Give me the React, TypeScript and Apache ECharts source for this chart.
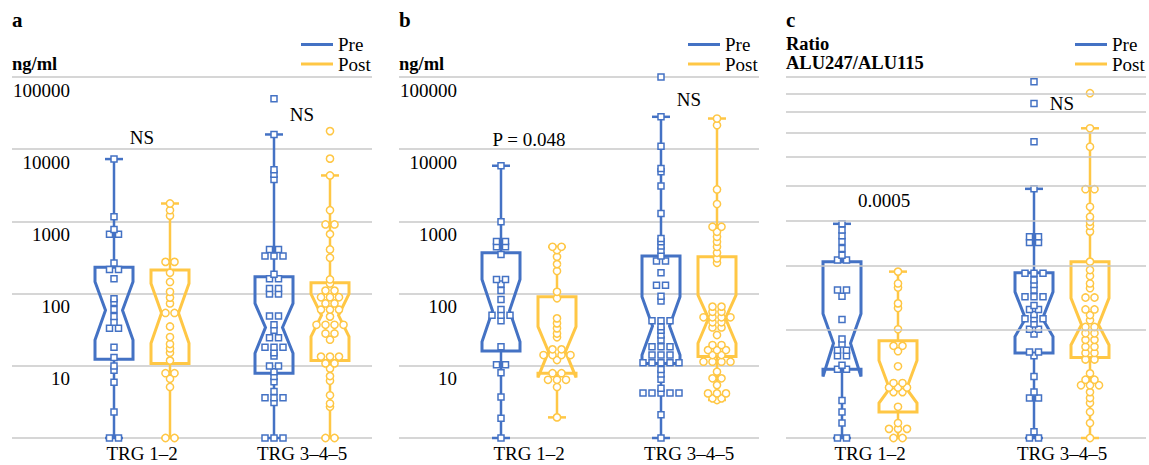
import React, { useEffect, useRef } from 'react';
import * as echarts from 'echarts';

const BLUE = '#4472C4';
const GOLD = '#FFC745';
const GRID_COLOR = '#C8C8C8';
const FONT = 'Liberation Serif';
const FS = 19;

const GROUPS = ['TRG 1–2', 'TRG 3–4–5'];
const SERIES_NAMES = ['Pre', 'Post'];
const RATIO_GRID = [0.2, 0.3, 0.4, 0.5, 0.6, 0.7, 0.8, 0.9];

// ---------- Panel a (ng/ml) ----------
const A_TRG12_PRE = [1, 1, 2.3, 5.9, 8.7, 9.9, 13, 18, 33, 33, 40, 48, 60, 75, 85, 160, 215, 215, 265, 665, 665, 775, 1160, 7300];
const A_TRG12_POST = [1, 1, 5.1, 6.6, 7.9, 7.9, 11.8, 15.2, 17.4, 20, 25, 35, 54, 54, 73, 88, 106, 145, 194, 275, 275, 1200, 1430, 1770];
const A_TRG345_PRE = [1, 1, 1, 3.1, 3.6, 3.6, 3.6, 4.4, 6.0, 7.1, 8.3, 9.9, 9.9, 13.7, 15.2, 18, 18, 18, 24.5, 24.5, 31, 37, 49, 49, 99, 99, 118, 118, 161, 161, 186, 331, 331, 331, 409, 409, 3800, 4500, 5200, 16000, 50000];
const A_TRG345_POST = [1, 1, 2.7, 3.0, 3.9, 6.2, 7.2, 9.2, 10.8, 10.8, 13.4, 13.4, 13.4, 23, 28, 28, 37, 37, 37, 37, 48, 60, 60, 60, 73, 73, 89, 89, 89, 110, 110, 138, 157, 314, 409, 667, 908, 908, 1430, 4330, 7400, 17800];
// [whiskerLow, q1, notchLow, median, notchHigh, q3, whiskerHigh]
const A_PRE_STATS = [[1, 12.3, 22.7, 59, 146, 231, 7300], [1, 7.9, 14.9, 34, 73, 171, 16000]];
const A_POST_STATS = [[1, 10.8, 20.5, 54, 138, 212, 1770], [1, 11.8, 25.3, 50, 99, 141, 4330]];
const A_STAT_TEXT = ['NS', 'NS'];
const A_STAT_Y = [14300, 29800];

// ---------- Panel b (ng/ml) ----------
const B_TRG12_PRE = [1, 1.87, 3.7, 8.0, 10.3, 10.3, 18.4, 42, 50, 50, 50, 60, 83, 110, 136, 157, 157, 349, 445, 445, 528, 528, 990, 5900];
const B_TRG12_POST = [1.93, 5.1, 6.4, 6.4, 6.4, 7.9, 7.9, 12, 14.1, 14.1, 14.1, 14.1, 16.9, 16.9, 24.8, 28, 33, 38.7, 45.4, 86, 106, 205, 256, 324, 400, 445, 445];
const B_TRG345_PRE = [1, 2.1, 4.2, 4.2, 4.2, 4.2, 4.2, 4.9, 6.5, 7.7, 8.9, 11, 11, 11, 11, 11, 14.1, 14.1, 14.1, 18.4, 18.4, 18.4, 22.7, 26.7, 31, 34.8, 42, 42, 42, 79, 92, 131, 131, 194, 282, 282, 331, 400, 455, 523, 580, 1290, 3100, 4860, 5400, 11000, 28100, 100000];
const B_TRG345_POST = [3.36, 3.54, 3.54, 4.15, 4.15, 4.15, 5.4, 6.7, 6.7, 8.3, 11.4, 11.4, 11.4, 11.4, 14.1, 14.1, 16.5, 16.5, 16.5, 19.4, 19.4, 26.7, 34, 34, 40, 40, 47, 47, 47, 47, 56, 56, 66, 66, 267, 307, 368, 445, 523, 612, 718, 843, 843, 1740, 2770, 21500, 26600];
const B_PRE_STATS = [[1, 16, 21.6, 58, 157, 368, 5900], [1, 10.8, 14.1, 35.5, 90.5, 331, 28100]];
const B_POST_STATS = [[1.93, 7.9, 6.9, 15.7, 34.8, 90.5, 445], [3.36, 13.4, 20.5, 45.4, 95.4, 324, 26600]];
const B_STAT_TEXT = ['P = 0.048', 'NS'];
const B_STAT_Y = [13800, 48800];

// ---------- Panel c (ratio ALU247/ALU115) ----------
const C_TRG12_PRE = [0.1, 0.1, 0.11, 0.118, 0.127, 0.155, 0.155, 0.159, 0.169, 0.169, 0.175, 0.175, 0.182, 0.188, 0.213, 0.247, 0.257, 0.257, 0.311, 0.311, 0.321, 0.335, 0.35, 0.363, 0.377, 0.392];
const C_TRG12_POST = [0.1, 0.1, 0.106, 0.106, 0.106, 0.11, 0.122, 0.134, 0.134, 0.138, 0.138, 0.138, 0.142, 0.142, 0.158, 0.174, 0.18, 0.18, 0.2, 0.229, 0.236, 0.261, 0.268, 0.289];
const C_TRG345_PRE = [0.1, 0.1, 0.104, 0.129, 0.129, 0.134, 0.148, 0.169, 0.173, 0.173, 0.194, 0.2, 0.2, 0.207, 0.214, 0.214, 0.214, 0.22, 0.227, 0.227, 0.233, 0.246, 0.246, 0.246, 0.257, 0.266, 0.274, 0.286, 0.286, 0.286, 0.348, 0.348, 0.361, 0.361, 0.49, 0.662, 0.845, 0.97];
const C_TRG345_POST = [0.1, 0.11, 0.118, 0.125, 0.129, 0.134, 0.14, 0.14, 0.14, 0.145, 0.145, 0.151, 0.165, 0.165, 0.172, 0.172, 0.179, 0.179, 0.187, 0.187, 0.195, 0.195, 0.203, 0.203, 0.212, 0.219, 0.227, 0.227, 0.245, 0.245, 0.26, 0.268, 0.281, 0.292, 0.308, 0.373, 0.387, 0.397, 0.41, 0.437, 0.489, 0.489, 0.641, 0.721, 0.902];
const C_PRE_STATS = [[0.1, 0.155, 0.148, 0.183, 0.221, 0.308, 0.392], [0.1, 0.172, 0.191, 0.214, 0.254, 0.287, 0.49]];
const C_POST_STATS = [[0.1, 0.118, 0.125, 0.137, 0.164, 0.186, 0.289], [0.1, 0.167, 0.181, 0.206, 0.244, 0.308, 0.721]];
const C_STAT_TEXT = ['0.0005', 'NS'];
const C_STAT_Y = [0.456, 0.847];

// ---------- layout (pixels) ----------
const GRID_TOP = 77;
const GRID_H = 361;
const GRID_W = 360;
const PHASE_OFFSET = 28;
const BOX_W = 38;
const WAIST_W = 17;
const CAP_W = 18;
const SLOT = 9;

const PANELS = [
  { left: 12, xMin: 0.1875, xMax: 2.4375, log: [1, 100000], labels: true, pre: [A_TRG12_PRE, A_TRG345_PRE], post: [A_TRG12_POST, A_TRG345_POST], preStats: A_PRE_STATS, postStats: A_POST_STATS, statText: A_STAT_TEXT, statY: A_STAT_Y, statDx: [0, 0], legendLeft: 301 },
  { left: 399, xMin: 0.1875, xMax: 2.4375, log: [1, 100000], labels: true, pre: [B_TRG12_PRE, B_TRG345_PRE], post: [B_TRG12_POST, B_TRG345_POST], preStats: B_PRE_STATS, postStats: B_POST_STATS, statText: B_STAT_TEXT, statY: B_STAT_Y, statDx: [0, 0], legendLeft: 688 },
  { left: 786, xMin: 0.5625, xMax: 2.4375, log: [0.1, 1], labels: false, pre: [C_TRG12_PRE, C_TRG345_PRE], post: [C_TRG12_POST, C_TRG345_POST], preStats: C_PRE_STATS, postStats: C_POST_STATS, statText: C_STAT_TEXT, statY: C_STAT_Y, statDx: [14, 0], legendLeft: 1075 },
];

function slotsOf(values: number[]): number[] {
  const counts = new Map<number, number>();
  values.forEach((v) => counts.set(v, (counts.get(v) || 0) + 1));
  const seen = new Map<number, number>();
  return values.map((v) => {
    const n = counts.get(v) as number;
    const i = seen.get(v) || 0;
    seen.set(v, i + 1);
    return i - (n - 1) / 2;
  });
}

function boxRenderer(offset: number, color: string) {
  return (params: any, api: any) => {
    const g = api.value(0);
    const Y = (i: number) => api.coord([g, api.value(i)])[1];
    const cx = api.coord([g, api.value(4)])[0] + offset;
    const wL = Y(1), q1 = Y(2), nL = Y(3), med = Y(4), nH = Y(5), q3 = Y(6), wH = Y(7);
    const hw = BOX_W / 2, nw = WAIST_W / 2, cw = CAP_W / 2;
    const lineStyle = { stroke: color, lineWidth: 2.5 };
    return {
      type: 'group',
      children: [
        { type: 'line', shape: { x1: cx, y1: wL, x2: cx, y2: q1 }, style: lineStyle },
        { type: 'line', shape: { x1: cx, y1: q3, x2: cx, y2: wH }, style: lineStyle },
        { type: 'line', shape: { x1: cx - cw, y1: wH, x2: cx + cw, y2: wH }, style: lineStyle },
        { type: 'line', shape: { x1: cx - cw, y1: wL, x2: cx + cw, y2: wL }, style: lineStyle },
        {
          type: 'polygon',
          shape: {
            points: [
              [cx - hw, q3], [cx - hw, nH], [cx - nw, med], [cx - hw, nL], [cx - hw, q1],
              [cx + hw, q1], [cx + hw, nL], [cx + nw, med], [cx + hw, nH], [cx + hw, q3],
            ],
          },
          style: { fill: 'none', stroke: color, lineWidth: 3, lineJoin: 'miter' },
        },
      ],
    };
  };
}

function pointRenderer(offset: number, color: string, square: boolean) {
  return (params: any, api: any) => {
    const p = api.coord([api.value(0), api.value(1)]);
    const x = p[0] + offset + api.value(2) * SLOT;
    const y = p[1];
    if (square) {
      return { type: 'rect', shape: { x: x - 3, y: y - 3, width: 6, height: 6 }, style: { fill: '#fff', stroke: color, lineWidth: 1.5 } };
    }
    return { type: 'circle', shape: { cx: x, cy: y, r: 3.6 }, style: { fill: '#fff', stroke: color, lineWidth: 1.5 } };
  };
}

function buildOption() {
  const grid: any[] = [];
  const xAxis: any[] = [];
  const yAxis: any[] = [];
  const series: any[] = [];
  const legend: any[] = [];

  PANELS.forEach((pn, i) => {
    grid.push({ left: pn.left, top: GRID_TOP, width: GRID_W, height: GRID_H });
    xAxis.push({
      gridIndex: i, type: 'value', min: pn.xMin, max: pn.xMax, interval: 0.0625,
      axisLine: { show: false }, axisTick: { show: false }, splitLine: { show: false },
      axisLabel: {
        margin: 6, fontFamily: FONT, fontSize: FS, color: '#000',
        formatter: (v: number) => (Math.abs(v - 1) < 1e-6 ? GROUPS[0] : Math.abs(v - 2) < 1e-6 ? GROUPS[1] : ''),
      },
    });
    yAxis.push({
      gridIndex: i, type: 'log', logBase: 10, min: pn.log[0], max: pn.log[1],
      axisLine: { show: false }, axisTick: { show: false },
      splitLine: { show: true, lineStyle: { color: GRID_COLOR, width: 1.5 } },
      axisLabel: {
        show: pn.labels, inside: true, margin: 58, align: 'right', verticalAlign: 'top',
        padding: [3.5, 0, 0, 0], lineHeight: 19, fontFamily: FONT, fontSize: FS, color: '#000',
        formatter: (v: number) => (v >= 10 ? String(Math.round(v)) : ''),
      },
    });
    if (!pn.labels) {
      series.push({
        type: 'line', name: 'grid', xAxisIndex: i, yAxisIndex: i, data: [], silent: true,
        markLine: {
          silent: true, symbol: ['none', 'none'], label: { show: false },
          lineStyle: { color: GRID_COLOR, width: 1.5, type: 'solid' },
          data: RATIO_GRID.map((v) => ({ yAxis: v })),
        },
      });
    }
    const phases = [
      { name: SERIES_NAMES[0], stats: pn.preStats, pts: pn.pre, off: -PHASE_OFFSET, color: BLUE, square: true },
      { name: SERIES_NAMES[1], stats: pn.postStats, pts: pn.post, off: PHASE_OFFSET, color: GOLD, square: false },
    ];
    phases.forEach((ph) => {
      series.push({
        type: 'custom', name: ph.name, xAxisIndex: i, yAxisIndex: i, clip: false, silent: true,
        itemStyle: { color: ph.color },
        encode: { x: 0, y: [1, 2, 3, 4, 5, 6, 7] },
        data: ph.stats.map((s, gi) => [gi + 1, ...s]),
        renderItem: boxRenderer(ph.off, ph.color),
      });
    });
    phases.forEach((ph) => {
      const data: number[][] = [];
      ph.pts.forEach((vals, gi) => {
        const sl = slotsOf(vals);
        vals.forEach((v, k) => data.push([gi + 1, v, sl[k]]));
      });
      series.push({
        type: 'custom', name: ph.name, xAxisIndex: i, yAxisIndex: i, clip: false, silent: true,
        itemStyle: { color: ph.color },
        encode: { x: 0, y: 1 },
        data,
        renderItem: pointRenderer(ph.off, ph.color, ph.square),
      });
    });
    series.push({
      type: 'custom', name: 'stats', xAxisIndex: i, yAxisIndex: i, clip: false, silent: true,
      encode: { x: 0, y: 1 },
      data: pn.statY.map((v, gi) => [gi + 1, v]),
      renderItem: (params: any, api: any) => {
        const p = api.coord([api.value(0), api.value(1)]);
        const idx = params.dataIndex;
        return {
          type: 'text', x: p[0] + pn.statDx[idx], y: p[1],
          style: { text: pn.statText[idx], fontFamily: FONT, fontSize: FS, fill: '#000', align: 'center', verticalAlign: 'middle' },
        };
      },
    });
    legend.push({
      left: pn.legendLeft, top: 35, padding: 0, orient: 'vertical', icon: 'rect', itemWidth: 32, itemHeight: 3, itemGap: 0.5,
      selectedMode: false,
      textStyle: { fontFamily: FONT, fontSize: FS, color: '#000', lineHeight: 19 },
      data: [
        { name: SERIES_NAMES[0], itemStyle: { color: BLUE } },
        { name: SERIES_NAMES[1], itemStyle: { color: GOLD } },
      ],
    });
  });

  const titleText = (text: string, x: number, y: number, size: number) => ({
    type: 'text', x, y,
    style: { text, fontFamily: FONT, fontWeight: 'bold', fontSize: size, fill: '#000', align: 'left', verticalAlign: 'middle' },
  });

  return {
    animation: false,
    backgroundColor: '#fff',
    grid, xAxis, yAxis, series, legend,
    graphic: [
      titleText('a', 12, 20, 21),
      titleText('b', 399, 20, 21),
      titleText('c', 786, 20, 21),
      titleText('ng/ml', 12, 64, 18.5),
      titleText('ng/ml', 399, 64, 18.5),
      titleText('Ratio', 786, 44, 18.5),
      titleText('ALU247/ALU115', 786, 63, 18.5),
    ],
  };
}

export default function App() {
  const ref = useRef<HTMLDivElement>(null);
  useEffect(() => {
    document.body.style.margin = '0';
    const chart = echarts.init(ref.current as HTMLDivElement, null, { renderer: 'svg' });
    chart.setOption(buildOption() as any);
    return () => chart.dispose();
  }, []);
  return <div ref={ref} style={{ width: 1149, height: 465 }} />;
}
